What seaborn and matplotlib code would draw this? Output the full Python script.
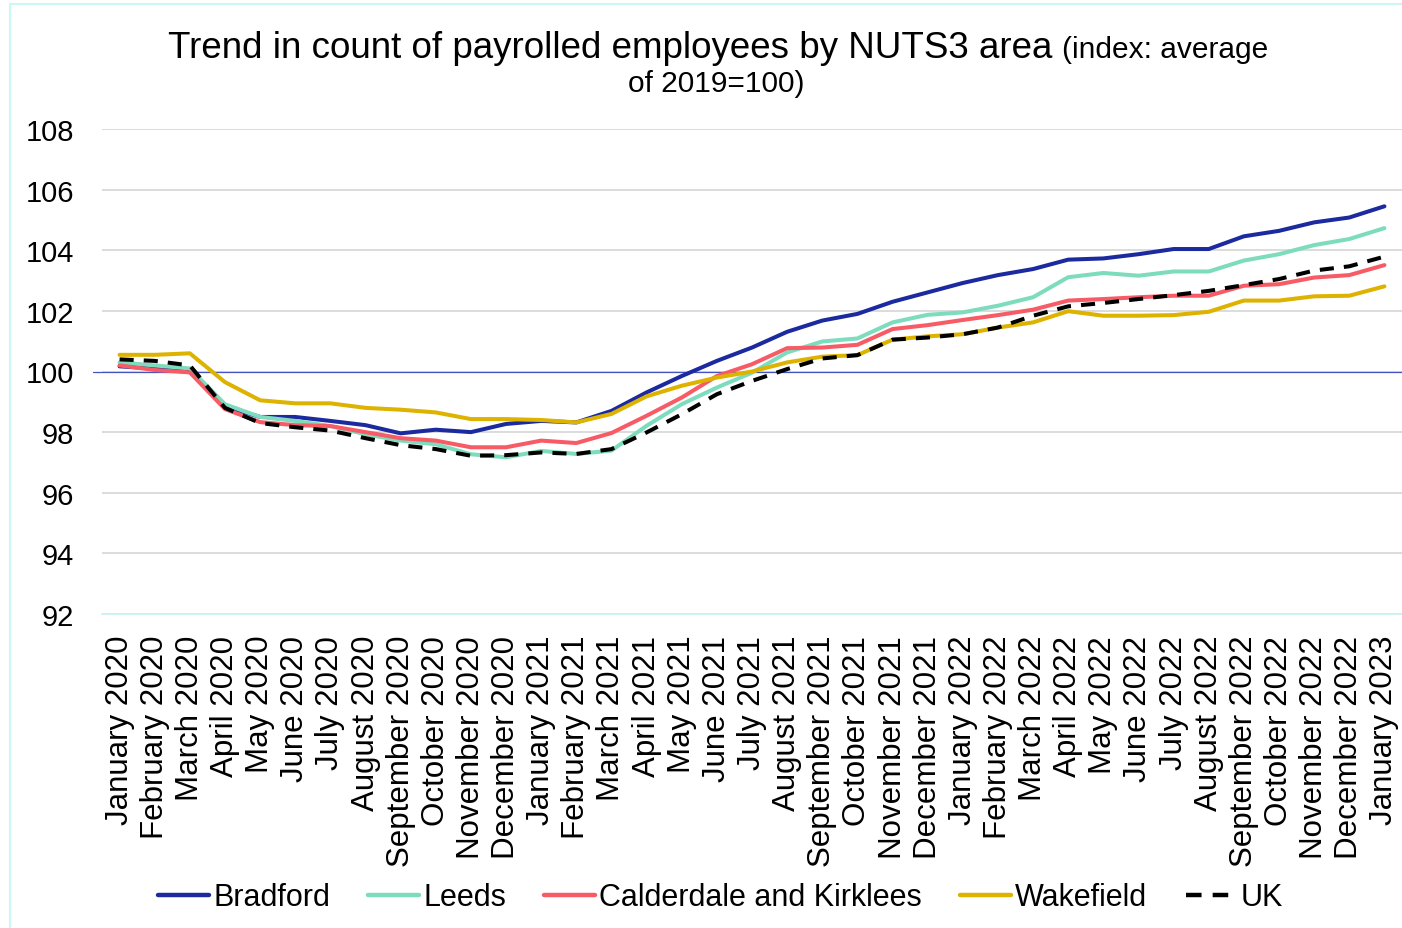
import numpy as np
import pandas as pd
import seaborn as sns
import matplotlib.pyplot as plt
from matplotlib.patches import Rectangle

months = ['January 2020', 'February 2020', 'March 2020', 'April 2020', 'May 2020', 'June 2020',
          'July 2020', 'August 2020', 'September 2020', 'October 2020', 'November 2020',
          'December 2020', 'January 2021', 'February 2021', 'March 2021', 'April 2021',
          'May 2021', 'June 2021', 'July 2021', 'August 2021', 'September 2021',
          'October 2021', 'November 2021', 'December 2021', 'January 2022', 'February 2022',
          'March 2022', 'April 2022', 'May 2022', 'June 2022', 'July 2022', 'August 2022',
          'September 2022', 'October 2022', 'November 2022', 'December 2022', 'January 2023']

bradford = [100.17, 100.1, 100.05, 98.85, 98.5, 98.5, 98.37, 98.23, 97.96, 98.08, 98.0, 98.27,
            98.37, 98.32, 98.7, 99.31, 99.85, 100.35, 100.79, 101.31, 101.68, 101.9, 102.3,
            102.61, 102.92, 103.18, 103.38, 103.69, 103.73, 103.87, 104.04, 104.04, 104.46,
            104.64, 104.92, 105.08, 105.45]
leeds = [100.3, 100.2, 100.1, 98.92, 98.5, 98.37, 98.2, 97.93, 97.72, 97.6, 97.27, 97.17,
         97.38, 97.28, 97.39, 98.21, 98.92, 99.47, 99.96, 100.63, 100.99, 101.09, 101.62,
         101.87, 101.95, 102.17, 102.45, 103.11, 103.25, 103.16, 103.3, 103.3, 103.66,
         103.87, 104.17, 104.37, 104.73]
calderdale = [100.2, 100.05, 99.97, 98.76, 98.33, 98.23, 98.2, 98.0, 97.8, 97.72, 97.5, 97.5,
              97.72, 97.64, 97.97, 98.54, 99.14, 99.85, 100.24, 100.77, 100.79, 100.88, 101.4,
              101.53, 101.7, 101.86, 102.04, 102.34, 102.39, 102.45, 102.5, 102.5, 102.83,
              102.88, 103.1, 103.18, 103.51]
wakefield = [100.55, 100.55, 100.6, 99.65, 99.05, 98.95, 98.95, 98.8, 98.74, 98.65, 98.43,
             98.43, 98.4, 98.32, 98.6, 99.18, 99.53, 99.8, 100.0, 100.3, 100.49, 100.54,
             101.05, 101.16, 101.23, 101.45, 101.62, 101.99, 101.84, 101.84, 101.86, 101.97,
             102.34, 102.34, 102.48, 102.5, 102.81]
uk = [100.4, 100.35, 100.2, 98.8, 98.3, 98.16, 98.05, 97.8, 97.57, 97.44, 97.22, 97.24,
      97.33, 97.28, 97.44, 97.99, 98.59, 99.25, 99.69, 100.08, 100.43, 100.54, 101.05,
      101.12, 101.23, 101.45, 101.84, 102.15, 102.26, 102.39, 102.52, 102.66, 102.85,
      103.05, 103.33, 103.47, 103.79]

areas = ['Bradford', 'Leeds', 'Calderdale and Kirklees', 'Wakefield', 'UK']
colors = ['#1B2A9E', '#7DDCBD', '#F65B66', '#DDB300', '#000000']
yticks = [92, 94, 96, 98, 100, 102, 104, 106, 108]

series = [bradford, leeds, calderdale, wakefield, uk]
df = pd.concat([pd.DataFrame({'idx': np.arange(len(months)), 'value': s, 'area': a})
                for a, s in zip(areas, series)], ignore_index=True)

sns.set_style('white')
plt.rcParams['font.family'] = ['Liberation Sans', 'DejaVu Sans']
plt.rcParams['text.color'] = 'black'
plt.rcParams['xtick.color'] = 'black'
plt.rcParams['ytick.color'] = 'black'

fig = plt.figure(figsize=(14.02, 9.29), dpi=100)
ax = fig.add_axes([102 / 1402, 1 - 615 / 929, 1 - 102 / 1402, (615 - 130) / 929])

sns.lineplot(data=df, x='idx', y='value', hue='area', style='area',
             palette=dict(zip(areas, colors)),
             dashes={'Bradford': '', 'Leeds': '', 'Calderdale and Kirklees': '',
                     'Wakefield': '', 'UK': (3.5, 2.5)},
             linewidth=2.9, ax=ax)

ax.axhline(100, xmin=-0.007, color='#4453C0', lw=0.9, zorder=1.5, clip_on=False)

ax.set_xlim(-0.5, 36.5)
ax.set_ylim(92, 108)
ax.set_yticks(yticks)
ax.set_yticklabels([str(t) for t in yticks], fontsize=21)
ax.set_xticks(range(len(months)))
ax.set_xticklabels(months, rotation=90, fontsize=22.5)
ax.tick_params(axis='both', length=0)
ax.tick_params(axis='x', pad=15)
ax.tick_params(axis='y', pad=20)
ax.grid(axis='y', color='#D9D9D9', lw=1.3)
ax.set_axisbelow(True)
for s in ['left', 'right', 'top']:
    ax.spines[s].set_visible(False)
ax.spines['bottom'].set_color('#C9F3F3')
ax.spines['bottom'].set_linewidth(1.3)
ax.set_xlabel('')
ax.set_ylabel('')

handles, labels = ax.get_legend_handles_labels()
ax.get_legend().remove()
for h in handles:
    h.set_linewidth(3.2)
fig.legend(handles, labels, loc='center', bbox_to_anchor=(0.514, 0.033), ncol=5,
           frameon=False, fontsize=22, handlelength=1.65, handletextpad=0.15,
           columnspacing=1.25)

# title: big part + smaller "(index: average" on same line
fig.canvas.draw()
r = fig.canvas.get_renderer()
t1 = fig.text(0, 1 - 58 / 929, 'Trend in count of payrolled employees by NUTS3 area ',
              fontsize=26.5, va='baseline', ha='left')
t2 = fig.text(0, 1 - 58 / 929, '(index: average', fontsize=21.5, va='baseline', ha='left')
w1 = t1.get_window_extent(r).width
w2 = t2.get_window_extent(r).width
start = 718 - (w1 + w2) / 2
t1.set_x(start / 1402)
t2.set_x((start + w1) / 1402)
fig.text(716 / 1402, 1 - 92 / 929, 'of 2019=100)', fontsize=21.5, va='baseline', ha='center')

fig.patches.append(Rectangle((10 / 1402, -0.01), 1.0, 1 - 5 / 929 + 0.01,
                             transform=fig.transFigure, fill=False,
                             edgecolor='#CCF7F7', lw=1.5))

fig.savefig('out.png', dpi=100)
